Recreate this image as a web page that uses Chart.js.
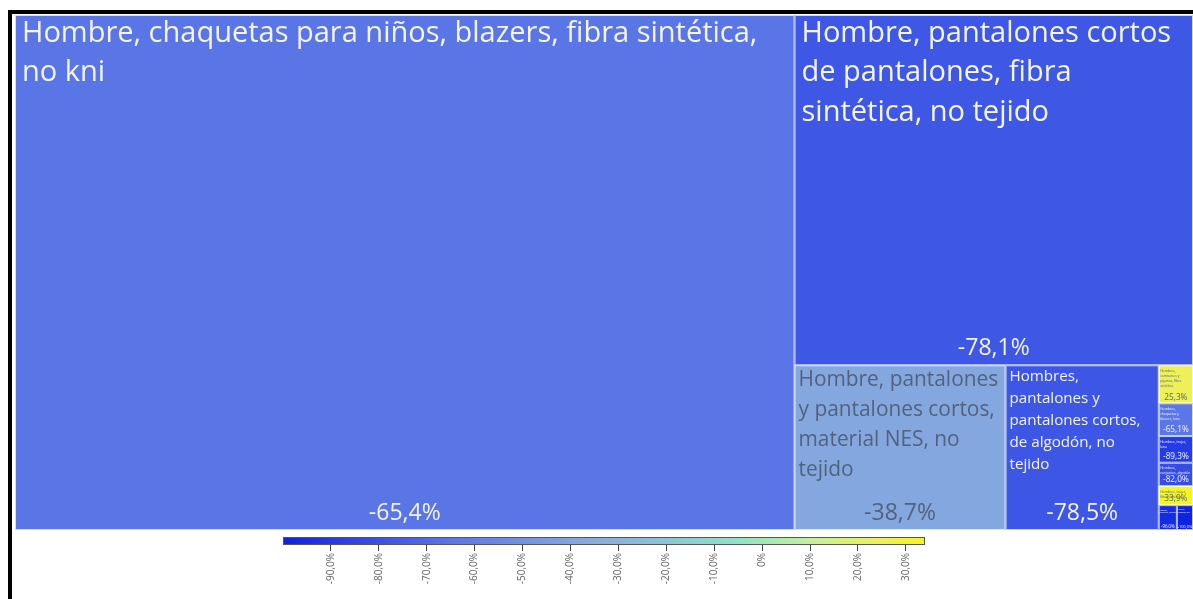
<!DOCTYPE html>
<html>
<head>
<meta charset="utf-8">
<script src="https://cdn.jsdelivr.net/npm/chart.js@4/dist/chart.umd.min.js"></script>
<style>
  body { margin: 0; background: #fff; }
  #wrap { position: relative; width: 1193px; height: 599px; }
  #wrap canvas { position: absolute; left: 0; }
  #frame { position: absolute; left: 8px; top: 10px; right: 0; bottom: 0;
           border-top: 4px solid #000; border-left: 4px solid #000; pointer-events: none; }
</style>
</head>
<body>
<div id="wrap">
  <canvas id="tree" width="1193" height="599" style="top:0"></canvas>
  <canvas id="bar" width="1193" height="69" style="top:530px"></canvas>
  <div id="frame"></div>
</div>
<script>
// products (sorted by trade value) and their change
const labels = [
  "Hombre, chaquetas para niños, blazers, fibra sintética, no kni",
  "Hombre, pantalones cortos de pantalones, fibra sintética, no tejido",
  "Hombre, pantalones y pantalones cortos, material NES, no tejido",
  "Hombres, pantalones y pantalones cortos, de algodón, no tejido",
  "Hombres, camisones y pijamas, fibra sintética",
  "Hombres, chaquetas y blazers, lana",
  "Hombres, trajes, lana",
  "Hombres, conjuntos, algodón",
  "Hombres, trajes, fibra sintética",
  "Hombres, chaquetas, algodón",
  "Hombres, pantalones, lana"
];
const sizes = [400.7, 139.3, 34.7, 25.2, 1.3, 1.12, 0.91, 0.8, 0.65, 0.45, 0.4];
const changes = [-65.4, -78.1, -38.7, -78.5, 25.3, -65.1, -89.3, -82.0, 33.9, -96.0, -100.0];

const cbTicks = [-90, -80, -70, -60, -50, -40, -30, -20, -10, 0, 10, 20, 30];
const cbMin = -100, cbMax = 34;
const colorStops = [
  [-100, [13, 34, 227]],
  [-65, [91, 118, 230]],
  [-38, [133, 168, 224]],
  [-20, [140, 196, 216]],
  [-5, [143, 227, 198]],
  [10, [196, 240, 158]],
  [25, [238, 240, 90]],
  [34, [245, 245, 30]]
];

const TREE_W = 1178, TREE_H = 515;
const FONT = "'Open Sans', 'Noto Sans', sans-serif";
const BASE = 29;

function colorFor(v) {
  if (v <= colorStops[0][0]) return colorStops[0][1];
  for (let i = 1; i < colorStops.length; i++) {
    const [v1, c1] = colorStops[i];
    const [v0, c0] = colorStops[i - 1];
    if (v <= v1) {
      const t = (v - v0) / (v1 - v0);
      return c0.map((c, k) => Math.round(c + t * (c1[k] - c)));
    }
  }
  return colorStops[colorStops.length - 1][1];
}
const rgb = c => `rgb(${c[0]},${c[1]},${c[2]})`;

function fmt(v) {
  if (v === 0) return "0%";
  return v.toFixed(1).replace(".", ",") + "%";
}

// squarified layout in data units
function worst(row, side) {
  const s = row.reduce((a, b) => a + b, 0);
  const mx = Math.max(...row), mn = Math.min(...row);
  return Math.max(side * side * mx / (s * s), (s * s) / (side * side * mn));
}
function squarify(areas, x, y, w, h) {
  const out = [];
  let i = 0;
  while (i < areas.length) {
    const side = Math.min(w, h);
    const row = [areas[i]];
    let j = i + 1;
    while (j < areas.length && worst(row.concat(areas[j]), side) <= worst(row, side)) {
      row.push(areas[j]);
      j++;
    }
    const s = row.reduce((a, b) => a + b, 0);
    if (w >= h) {
      const cw = s / h;
      let cy = y;
      row.forEach(a => { out.push({ x, y: cy, w: cw, h: a / cw }); cy += a / cw; });
      x += cw; w -= cw;
    } else {
      const rh = s / w;
      let cx = x;
      row.forEach(a => { out.push({ x: cx, y, w: a / rh, h: rh }); cx += a / rh; });
      y += rh; h -= rh;
    }
    i = j;
  }
  return out;
}

function wrap(ctx, text, maxW) {
  const words = text.split(" ");
  const lines = [];
  let cur = "";
  words.forEach(wd => {
    const t = cur ? cur + " " + wd : wd;
    if (ctx.measureText(t).width > maxW && cur) { lines.push(cur); cur = wd; }
    else cur = t;
  });
  if (cur) lines.push(cur);
  return lines;
}

const treemapPlugin = {
  id: "treemap",
  afterDatasetsDraw(chart) {
    const { ctx, scales: { x, y } } = chart;
    const total = sizes.reduce((a, b) => a + b, 0);
    const areas = sizes.map(s => s / total * TREE_W * TREE_H);
    const rects = squarify(areas, 0, 0, TREE_W, TREE_H);
    rects.forEach((r, i) => {
      const px0 = x.getPixelForValue(r.x), px1 = x.getPixelForValue(r.x + r.w);
      const py0 = y.getPixelForValue(r.y), py1 = y.getPixelForValue(r.y + r.h);
      const w = px1 - px0, h = py1 - py0;
      const col = colorFor(changes[i]);
      ctx.save();
      ctx.fillStyle = rgb(col);
      ctx.fillRect(px0, py0, w, h);
      ctx.strokeStyle = "rgba(255,255,255,0.75)";
      ctx.lineWidth = 1;
      ctx.strokeRect(px0 + 0.5, py0 + 0.5, w - 1, h - 1);
      ctx.beginPath();
      ctx.rect(px0, py0, w, h);
      ctx.clip();
      const lum = 0.299 * col[0] + 0.587 * col[1] + 0.114 * col[2];
      ctx.fillStyle = lum > 150 ? "rgba(80,94,118,0.95)" : "#f4f5fb";
      if (w > 12 && h > 12) {
        const k = Math.min(1, w / 293);
        const fs = BASE * k;
        const pad = k < 1 ? Math.min(4, w * 0.04) : 7;
        ctx.font = `${fs}px ${FONT}`;
        ctx.textAlign = "left";
        ctx.textBaseline = "middle";
        const lines = wrap(ctx, labels[i], w - 2 * pad);
        const lh = fs * (k < 1 ? 1.45 : 1.36);
        lines.forEach((ln, n) => ctx.fillText(ln, px0 + pad, py0 + 4 + fs * 0.5 + n * lh));
        const kv = Math.min(1, w / 95);
        const vs = 23 * kv;
        ctx.font = `${vs}px ${FONT}`;
        ctx.textAlign = "center";
        ctx.fillText(fmt(changes[i]), px0 + w / 2, py1 - 17 * kv);
      }
      ctx.restore();
    });
  }
};

new Chart(document.getElementById("tree"), {
  type: "scatter",
  data: { datasets: [{ data: [] }] },
  options: {
    responsive: false,
    animation: false,
    layout: { padding: { left: 15, top: 15, right: 0, bottom: 69 } },
    plugins: { legend: { display: false }, tooltip: { enabled: false } },
    scales: {
      x: { type: "linear", min: 0, max: TREE_W, display: false },
      y: { type: "linear", min: 0, max: TREE_H, reverse: true, display: false }
    }
  },
  plugins: [treemapPlugin]
});

const gradientPlugin = {
  id: "gradientBar",
  beforeDatasetsDraw(chart) {
    const { ctx, chartArea: a, scales: { x } } = chart;
    const g = ctx.createLinearGradient(a.left, 0, a.right, 0);
    colorStops.forEach(([v, c]) => {
      g.addColorStop((x.getPixelForValue(v) - a.left) / (a.right - a.left), rgb(c));
    });
    ctx.save();
    ctx.fillStyle = g;
    ctx.fillRect(a.left, a.top, a.right - a.left, a.bottom - a.top);
    ctx.strokeStyle = "#555";
    ctx.lineWidth = 1;
    ctx.strokeRect(a.left + 0.5, a.top + 0.5, a.right - a.left - 1, a.bottom - a.top - 1);
    ctx.restore();
  }
};

new Chart(document.getElementById("bar"), {
  type: "scatter",
  data: { datasets: [{ data: [] }] },
  options: {
    responsive: false,
    animation: false,
    layout: { padding: { left: 283, right: 268, top: 7, bottom: 0 } },
    plugins: { legend: { display: false }, tooltip: { enabled: false } },
    scales: {
      x: {
        type: "linear", min: cbMin, max: cbMax,
        afterBuildTicks: s => { s.ticks = cbTicks.map(v => ({ value: v })); },
        afterFit: s => { s.height = 54; },
        grid: { drawOnChartArea: false, tickLength: 6, color: "#444" },
        border: { display: false },
        ticks: {
          autoSkip: false, minRotation: 90, maxRotation: 90, padding: 2,
          color: "#666", font: { family: FONT, size: 10 },
          callback: v => fmt(v)
        }
      },
      y: { display: false }
    }
  },
  plugins: [gradientPlugin]
});
</script>
</body>
</html>
